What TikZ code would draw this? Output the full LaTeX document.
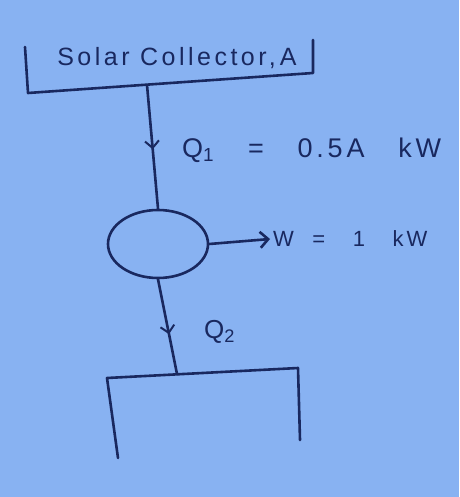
\documentclass[tikz,border=0pt]{standalone}
\usepackage{fontspec}
\setmainfont{Liberation Sans}
\newfontfamily\hand[LetterSpace=14]{Liberation Sans}
\usetikzlibrary{positioning,arrows.meta,shapes.geometric,decorations.markings}
\definecolor{paper}{RGB}{136,178,242}
\definecolor{ink}{RGB}{25,40,95}

\begin{document}
\begin{tikzpicture}[x=1pt,y=-1pt,
  lb/.style={font=\hand\fontsize{26}{30}\selectfont,text=ink,inner sep=0pt},
  pen/.style={draw=ink,line width=2.6pt,line cap=round,line join=round},
  flow/.style={pen,postaction={decorate},decoration={markings,
    mark=at position #1 with {\arrow[ink,line width=2pt]{Straight Barb[length=7pt,width=14pt]}}}}]
\fill[paper] (0,0) rectangle (459,497);
% solar collector
\coordinate (c1) at (25,47);
\coordinate (c2) at (28,93);
\coordinate (c3) at (313,73);
\coordinate (c4) at (313,40);
\draw[pen] (c1) -- (c2) -- (c3) -- (c4);
\node[lb,font=\hand\fontsize{25}{30}\selectfont] (coll) at (177,58) {Solar\ Collector,\,A};
\coordinate (out) at (147,85);
% engine
\node[pen,ellipse,minimum width=100pt,minimum height=68pt,inner sep=0pt] (eng) at (158,244) {};
\draw[flow=0.52] (out) -- (eng.north);
\node[lb,anchor=west,font=\hand\fontsize{27}{30}\selectfont] (q1) at (182,150) {Q\textsubscript{1}\ \ \ =\ \ \ 0.5A\ \ \ kW};
% work out
\coordinate (wend) at (270,239);
\draw[pen,-{Straight Barb[length=8pt,width=16pt]}] (eng.east) -- (wend);
\node[lb,font=\hand\fontsize{22}{26}\selectfont,right=3pt of wend] (work) {W\ \ =\ \ \ 1\ \ \ kW};
% sink
\coordinate (b1) at (107,378);
\coordinate (b2) at (298,368);
\coordinate (b3) at (118,458);
\coordinate (b4) at (300,440);
\coordinate (in) at (177,374);
\draw[pen] (b3) -- (b1) -- (b2) -- (b4);
\draw[flow=0.58] (eng.south) -- (in);
\node[lb,anchor=west] (q2) at (204,332) {Q\textsubscript{2}};
\end{tikzpicture}
\end{document}
